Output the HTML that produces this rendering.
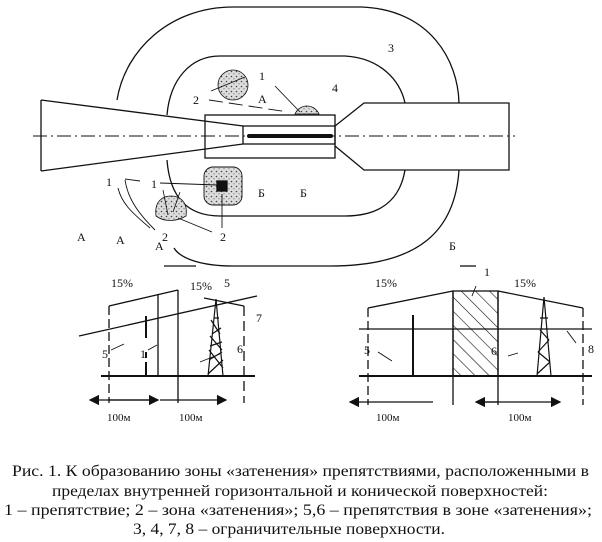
<!DOCTYPE html>
<html><head><meta charset="utf-8"><style>
html,body{margin:0;padding:0;background:#fff;}
svg{display:block;}
text{font-family:"Liberation Serif",serif;fill:#111;}
</style></head><body>
<svg width="602" height="542" viewBox="0 0 602 542" xmlns="http://www.w3.org/2000/svg">
<defs>
<pattern id="dots" width="5" height="5" patternUnits="userSpaceOnUse">
<rect width="5" height="5" fill="#ddd"/>
<circle cx="1.5" cy="1.5" r="0.8" fill="#444"/><circle cx="4" cy="3.8" r="0.6" fill="#666"/>
</pattern>
<pattern id="hatch" width="10" height="10" patternUnits="userSpaceOnUse" patternTransform="rotate(-45)">
<line x1="0" y1="0" x2="0" y2="10" stroke="#111" stroke-width="1.2"/>
</pattern>
<marker id="ar" markerWidth="8" markerHeight="8" refX="7" refY="4" orient="auto"><path d="M0,0 L8,4 L0,8 z" fill="#111"/></marker>
</defs>
<g fill="none" stroke="#111" stroke-width="1.3">
<path d="M233,7 L362,7 C430,10 458,60 459,103 M459,170 C455,230 420,266 330,266 L233,266 C200,266 180,258 174,248 M117,100 C125,50 170,7 233,7"/>
<path d="M220,56 L345,56 C380,58 400,80 405,103 M405,170 C400,200 380,216 345,216 L220,216 C190,216 170,200 167,160 M167,115 C170,80 190,56 220,56"/>
<path d="M41,100 L243,126 M41,171 L243,144 M41,100 L41,171"/>
<rect x="205" y="115" width="130" height="43"/>
<rect x="243" y="126" width="92" height="18"/>
<line x1="249" y1="136" x2="331" y2="136" stroke-width="4" stroke-linecap="round"/>
<path d="M335,126 L364,103 L509,103 L509,170 L364,170 L335,146"/>
<line x1="33" y1="136" x2="515" y2="136" stroke-width="0.9" stroke-dasharray="14,4,2,4"/>
<circle cx="233" cy="85" r="15" fill="url(#dots)" stroke-width="0.8"/>
<path d="M295,114 A13,13 0 0 1 319,114 Z" fill="url(#dots)" stroke-width="0.8"/>
<path d="M156,216 C154,200 164,196 171,196 C180,196 188,202 186,216 C176,222 164,222 156,216 Z" fill="url(#dots)" stroke-width="0.8"/>
<rect x="204" y="167" width="38" height="38" rx="9" fill="url(#dots)" stroke-width="0.9"/>
<rect x="217" y="181" width="10" height="10" fill="#111"/>
<line x1="211" y1="91" x2="245" y2="77" stroke-width="0.9"/>
<line x1="275" y1="86" x2="300" y2="112" stroke-width="0.9"/>
<line x1="209" y1="100" x2="288" y2="112" stroke-width="0.9" stroke-dasharray="14,6"/>
<line x1="125" y1="179" x2="140" y2="181" stroke-width="0.9"/>
<line x1="160" y1="183" x2="217" y2="185" stroke-width="0.9"/>
<line x1="222" y1="194" x2="222" y2="228" stroke-width="0.9"/>
<line x1="178" y1="218" x2="212" y2="232" stroke-width="0.9"/>
<path d="M118,188 C122,205 135,215 150,228" stroke-width="0.9"/>
<path d="M125,180 C128,200 140,215 155,230" stroke-width="0.9"/>
<line x1="163" y1="190" x2="168" y2="215" stroke-width="0.8"/>
<line x1="180" y1="192" x2="173" y2="212" stroke-width="0.8"/>

<line x1="101" y1="376" x2="255" y2="376" stroke-width="2"/>
<line x1="109" y1="306" x2="109" y2="403" stroke-dasharray="9,4"/>
<line x1="109" y1="306" x2="178" y2="290"/>
<line x1="178" y1="290" x2="178" y2="403"/>
<line x1="158" y1="294" x2="158" y2="376"/>
<line x1="79" y1="336" x2="257" y2="296"/>
<line x1="146" y1="316" x2="146" y2="376" stroke-width="2" stroke-dasharray="22,14,6,4"/>
<line x1="244" y1="306" x2="244" y2="403" stroke-dasharray="10,5"/>
<line x1="204" y1="298" x2="244" y2="306"/>
<path d="M216,299 L208,376 M216,299 L223,376 M214,318 L219,318 M212,334 L221,328 M210,346 L222,342 M209,360 L222,352 M208,374 L223,360 M211,320 L220,334 M210,336 L222,350 M209,350 L223,368" stroke-width="1.2"/>
<line x1="200" y1="362" x2="220" y2="354" stroke-width="0.9"/>
<line x1="111" y1="350" x2="124" y2="344" stroke-width="0.9"/>
<line x1="148" y1="350" x2="157" y2="345" stroke-width="0.9"/>
<line x1="158" y1="400" x2="90" y2="400" marker-end="url(#ar)"/>
<line x1="109" y1="400" x2="158" y2="400" marker-end="url(#ar)"/>
<line x1="160" y1="400" x2="226" y2="400" marker-end="url(#ar)"/>
<line x1="164" y1="266" x2="196" y2="266"/>

<line x1="359" y1="376" x2="592" y2="376" stroke-width="2"/>
<rect x="453" y="291" width="45" height="85" fill="url(#hatch)"/>
<line x1="453" y1="291" x2="453" y2="405"/>
<line x1="498" y1="291" x2="498" y2="405"/>
<line x1="368" y1="308" x2="453" y2="291"/>
<line x1="498" y1="291" x2="583" y2="308"/>
<line x1="368" y1="308" x2="368" y2="405" stroke-dasharray="9,4"/>
<line x1="583" y1="308" x2="583" y2="405" stroke-dasharray="9,4"/>
<line x1="359" y1="329" x2="592" y2="329"/>
<line x1="413" y1="315" x2="413" y2="376" stroke-width="2"/>
<path d="M544,297 L537,376 M544,297 L551,376 M540,330 L549,340 M549,340 L538,352 M538,352 L550,362 M550,362 L537,374 M540,318 L548,318" stroke-width="1.2"/>
<line x1="378" y1="352" x2="392" y2="361" stroke-width="0.9"/>
<line x1="508" y1="356" x2="518" y2="353" stroke-width="0.9"/>
<line x1="567" y1="331" x2="576" y2="343" stroke-width="0.9"/>
<line x1="476" y1="286" x2="472" y2="296" stroke-width="0.9"/>
<line x1="433" y1="402" x2="350" y2="402" marker-end="url(#ar)"/>
<line x1="476" y1="402" x2="560" y2="402" marker-end="url(#ar)"/>
<line x1="498" y1="402" x2="476" y2="402" marker-end="url(#ar)"/>
<line x1="460" y1="266" x2="476" y2="266"/>
</g>
<g font-size="12">
<text x="388" y="52">3</text><text x="332" y="92">4</text>
<text x="259" y="80">1</text><text x="258" y="103">А</text><text x="193" y="104">2</text>
<text x="106" y="186">1</text><text x="151" y="188">1</text>
<text x="258" y="197">Б</text><text x="300" y="197">Б</text>
<text x="162" y="241">2</text><text x="220" y="241">2</text>
<text x="77" y="241">А</text><text x="116" y="244">А</text>
<text x="155" y="250">А</text>
<text x="111" y="287">15%</text><text x="190" y="290">15%</text><text x="224" y="287">5</text>
<text x="256" y="322">7</text><text x="102" y="358">5</text><text x="140" y="358">1</text><text x="237" y="353">6</text>
<text x="107" y="421" font-size="11">100м</text><text x="179" y="421" font-size="11">100м</text>
<text x="449" y="250">Б</text><text x="484" y="276">1</text>
<text x="375" y="287">15%</text><text x="514" y="287">15%</text>
<text x="364" y="354">5</text><text x="491" y="355">6</text><text x="588" y="353">8</text>
<text x="376" y="421" font-size="11">100м</text><text x="508" y="421" font-size="11">100м</text>
</g>
<g font-size="16">
<text x="12" y="476" textLength="577" lengthAdjust="spacingAndGlyphs">Рис. 1. К образованию зоны «затенения» препятствиями, расположенными в</text>
<text x="52" y="496" textLength="496" lengthAdjust="spacingAndGlyphs">пределах внутренней горизонтальной и конической поверхностей:</text>
<text x="4" y="515" textLength="588" lengthAdjust="spacingAndGlyphs">1 – препятствие; 2 – зона «затенения»; 5,6 – препятствия в зоне «затенения»;</text>
<text x="133" y="534" textLength="312" lengthAdjust="spacingAndGlyphs">3, 4, 7, 8 – ограничительные поверхности.</text>
</g>
</svg>
</body></html>
